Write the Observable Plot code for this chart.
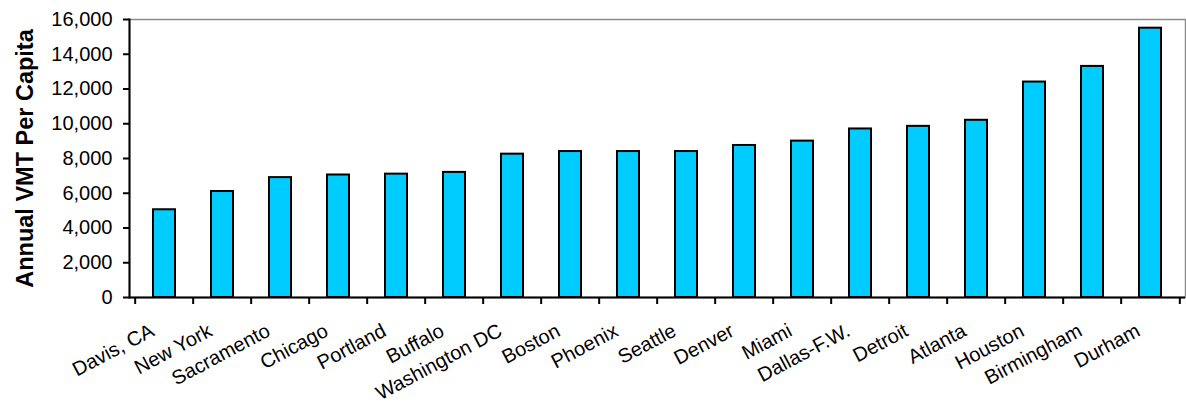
<!DOCTYPE html>
<html>
<head>
<meta charset="utf-8">
<script src="https://cdn.jsdelivr.net/npm/d3@7"></script>
<script src="https://cdn.jsdelivr.net/npm/@observablehq/plot@0.6"></script>
<style>
  html, body { margin: 0; padding: 0; background: #ffffff; }
</style>
</head>
<body>
<div id="chart"></div>
<script>
// Annual vehicle miles travelled per capita, by metro area
const cities = [
  "Davis, CA", "New York", "Sacramento", "Chicago", "Portland", "Buffalo",
  "Washington DC", "Boston", "Phoenix", "Seattle", "Denver", "Miami",
  "Dallas-F.W.", "Detroit", "Atlanta", "Houston", "Birmingham", "Durham"
];
const vmtPerCapita = [
  5050, 6100, 6900, 7050, 7100, 7200,
  8250, 8400, 8400, 8400, 8750, 9000,
  9700, 9850, 10200, 12400, 13300, 15500
];
const yTicks = [0, 2000, 4000, 6000, 8000, 10000, 12000, 14000, 16000];
const yTitle = "Annual VMT Per Capita";

const rows = cities.map((city, i) => ({city, vmt: vmtPerCapita[i]}));

const width = 1186, height = 409;
const marginLeft = 129, marginRight = 1, marginTop = 19, marginBottom = 112;
// category step (inner padding p and outer padding p/2 give range / n)
const step = (width - marginLeft - marginRight) / cities.length;

const chart = Plot.plot({
  width, height, marginLeft, marginRight, marginTop, marginBottom,
  style: {fontFamily: "'Liberation Sans', Arial, sans-serif", fontSize: "20px", color: "black", background: "white"},
  x: {domain: cities, paddingInner: 0.62, paddingOuter: 0.31, axis: null},
  y: {domain: [0, 16000], axis: null},
  marks: [
    Plot.frame({stroke: "#8c8c8c", strokeWidth: 1.5}),
    Plot.barY(rows, {x: "city", y: "vmt", fill: "#00CCFF", stroke: "black", strokeWidth: 2}),
    Plot.frame({anchor: "left", stroke: "black", strokeWidth: 2}),
    Plot.ruleY([0], {stroke: "black", strokeWidth: 2}),
    Plot.axisY({ticks: yTicks, tickSize: 6, tickPadding: 11, tickFormat: d3.format(","),
                label: null, fontSize: 20, strokeWidth: 2}),
    // category separators below the baseline
    Plot.axisX({ticks: cities, tickSize: 7, tickFormat: () => "", label: null, dx: -step / 2, strokeWidth: 2}),
    Plot.axisX({ticks: cities.slice(-1), tickSize: 7, tickFormat: () => "", label: null, dx: step / 2, strokeWidth: 2}),
    Plot.text(cities, {x: d => d, text: d => d, frameAnchor: "bottom", rotate: -28,
                       textAnchor: "end", dx: -9, dy: 37.5, fontSize: 20}),
    Plot.text([yTitle], {text: d => d, frameAnchor: "left", textAnchor: "middle", dx: -104, rotate: -90,
                         fontWeight: "bold", fontSize: 23.5})
  ]
});

document.getElementById("chart").appendChild(chart);
</script>
</body>
</html>
